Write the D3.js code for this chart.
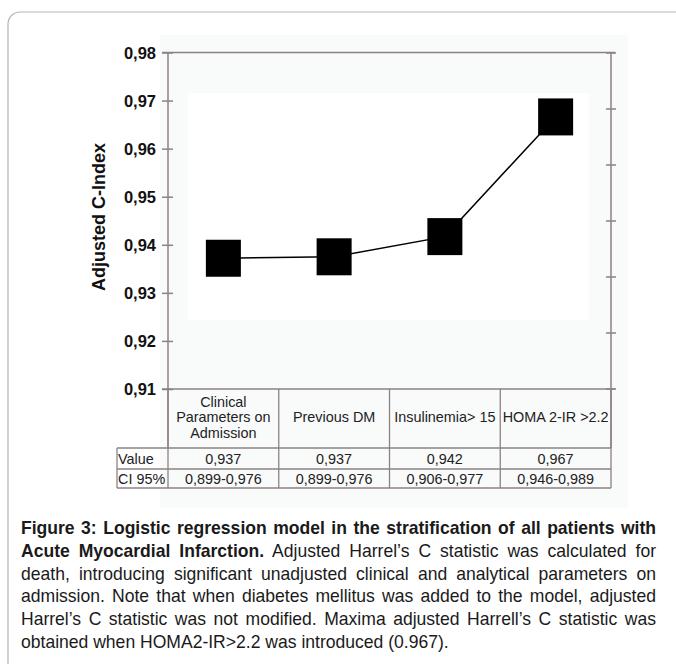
<!DOCTYPE html>
<html>
<head>
<meta charset="utf-8">
<script src="https://cdn.jsdelivr.net/npm/d3@7"></script>
<style>
  html, body { margin: 0; padding: 0; background: #ffffff; }
  svg { display: block; font-family: "Liberation Sans", Arial, sans-serif; }
</style>
</head>
<body>
<svg id="chart" width="676" height="664"></svg>
<script>
// ---- data ----
const categories = ["Clinical Parameters on Admission", "Previous DM", "Insulinemia> 15", "HOMA 2-IR >2.2"];
const headerLines = [["Clinical", "Parameters on", "Admission"], ["Previous DM"], ["Insulinemia> 15"], ["HOMA 2-IR >2.2"]];
const cIndex = [0.9372, 0.9375, 0.9417, 0.9666];
const valueLabels = ["0,937", "0,937", "0,942", "0,967"];
const ciLabels = ["0,899-0,976", "0,899-0,976", "0,906-0,977", "0,946-0,989"];
const rowLabels = ["Value", "CI 95%"];
const yTicks = [0.91, 0.92, 0.93, 0.94, 0.95, 0.96, 0.97, 0.98];
const yTitle = "Adjusted C-Index";
const captionBold = ["Figure 3: Logistic regression model in the stratification of all patients with", "Acute Myocardial Infarction."];
const captionLines = [
  "",
  " Adjusted Harrel\u2019s C statistic was calculated for",
  "death, introducing significant unadjusted clinical and analytical parameters on",
  "admission. Note that when diabetes mellitus was added to the model, adjusted",
  "Harrel\u2019s C statistic was not modified. Maxima adjusted Harrell\u2019s C statistic was",
  "obtained when HOMA2-IR>2.2 was introduced (0.967)."
];

// ---- layout ----
const svg = d3.select("#chart");
const L = 168, R = 611, T = 52.5, B = 389;
const axisColor = "#8d8282";

// outer rounded frame
svg.append("rect").attr("x", 8).attr("y", 12).attr("width", 700).attr("height", 700)
  .attr("rx", 12).attr("fill", "none").attr("stroke", "#b4b4b4").attr("stroke-width", 1.2);

// faint figure background
svg.append("rect").attr("x", 160).attr("y", 35).attr("width", 468).attr("height", 473).attr("fill", "#f9fafa");
svg.append("rect").attr("x", 188).attr("y", 93).attr("width", 401).attr("height", 227).attr("fill", "#ffffff");

const x = d3.scaleBand().domain(categories).range([L, R]).padding(0);
const y = d3.scaleLinear().domain([0.91, 0.98]).range([B, T]);
const yRight = d3.scaleLinear().domain([0, 6]).range([B, T + 0.5]);

// left axis
const yAxis = d3.axisLeft(y).tickValues(yTicks).tickSize(0)
  .tickFormat(d => d3.format(".2f")(d).replace(".", ","));
const gy = svg.append("g").attr("transform", `translate(${L},0)`).call(yAxis);
gy.select(".domain").remove();
gy.selectAll("text").attr("x", -12).attr("dy", "0.36em")
  .attr("font-size", 16.5).attr("font-weight", "bold").attr("fill", "#111")
  .attr("font-family", "'Liberation Sans', Arial, sans-serif");
gy.selectAll(".tick").append("line").attr("x1", -6).attr("x2", 5)
  .attr("stroke", axisColor).attr("stroke-width", 1.5);

// right axis ticks
const gr = svg.append("g");
gr.selectAll("line").data(d3.range(0, 7)).join("line")
  .attr("x1", R - 5).attr("x2", R + 5)
  .attr("y1", d => yRight(d)).attr("y2", d => yRight(d))
  .attr("stroke", axisColor).attr("stroke-width", 1.5);

// box
svg.append("line").attr("x1", L).attr("x2", L).attr("y1", T).attr("y2", 448).attr("stroke", axisColor).attr("stroke-width", 1.5);
svg.append("line").attr("x1", R).attr("x2", R).attr("y1", T).attr("y2", 448).attr("stroke", axisColor).attr("stroke-width", 1.5);
svg.append("line").attr("x1", L - 6).attr("x2", R + 4).attr("y1", T).attr("y2", T).attr("stroke", axisColor).attr("stroke-width", 1.5);
svg.append("line").attr("x1", L - 6).attr("x2", R + 4).attr("y1", B).attr("y2", B).attr("stroke", axisColor).attr("stroke-width", 1.5);

// y title
svg.append("text").attr("transform", `translate(105,217) rotate(-90)`)
  .attr("text-anchor", "middle").attr("font-size", 18).attr("font-weight", "bold").attr("fill", "#111")
  .text(yTitle);

// line + markers
const cx = d => x(d) + x.bandwidth() / 2;
const line = d3.line().x((d, i) => cx(categories[i])).y(d => y(d));
svg.append("path").datum(cIndex).attr("d", line).attr("fill", "none").attr("stroke", "#000").attr("stroke-width", 1.5);
svg.selectAll("rect.mk").data(cIndex).join("rect").attr("class", "mk")
  .attr("x", (d, i) => cx(categories[i]) - 17.5).attr("y", d => y(d) - 18.5)
  .attr("width", 35).attr("height", 37).attr("fill", "#000");

// table
const tLeft = 117, hTop = B, hBot = 448, r1Bot = 469, r2Bot = 488;
const tg = svg.append("g");
const tl = (x1, y1, x2, y2) => tg.append("line").attr("x1", x1).attr("y1", y1).attr("x2", x2).attr("y2", y2)
  .attr("stroke", axisColor).attr("stroke-width", 1.3);
categories.forEach(c => tl(x(c), hTop, x(c), r2Bot));
tl(R, hTop, R, r2Bot);
tl(tLeft, hBot, tLeft, r2Bot);
tl(tLeft, hBot, R, hBot);
tl(tLeft, r1Bot, R, r1Bot);
tl(tLeft, r2Bot, R, r2Bot);

headerLines.forEach((lines, i) => {
  const n = lines.length;
  lines.forEach((s, j) => {
    tg.append("text").attr("x", cx(categories[i])).attr("y", 422 + (j - (n - 1) / 2) * 15.5)
      .attr("text-anchor", "middle").attr("font-size", 14.4).attr("fill", "#222").text(s);
  });
});
valueLabels.forEach((s, i) => tg.append("text").attr("x", cx(categories[i])).attr("y", 464)
  .attr("text-anchor", "middle").attr("font-size", 14.4).attr("fill", "#222").text(s));
ciLabels.forEach((s, i) => tg.append("text").attr("x", cx(categories[i])).attr("y", 484)
  .attr("text-anchor", "middle").attr("font-size", 14.4).attr("fill", "#222").text(s));
tg.append("text").attr("x", 118).attr("y", 464).attr("font-size", 14.4).attr("fill", "#222").text(rowLabels[0]);
tg.append("text").attr("x", 118).attr("y", 484).attr("font-size", 14.4).attr("fill", "#222").text(rowLabels[1]);

// caption: narrow-looking text (horizontally scaled), justified via word-spacing
const capX = 21, capW = 635, base0 = 534, lh = 22.8, lastW = 428;
const capOuter = svg.append("g").attr("font-size", 17.5).attr("fill", "#1a1a1a");
const capG = capOuter.append("g");
const texts = [];
const t1 = capG.append("text").attr("x", 0).attr("y", base0).attr("font-weight", "bold").text(captionBold[0]);
texts.push({ t: t1, s: captionBold[0] });
const t2 = capG.append("text").attr("x", 0).attr("y", base0 + lh);
t2.append("tspan").attr("font-weight", "bold").text(captionBold[1]);
t2.append("tspan").text(captionLines[1]);
texts.push({ t: t2, s: captionBold[1] + captionLines[1] });
for (let k = 2; k < captionLines.length; k++) {
  const t = capG.append("text").attr("x", 0).attr("y", base0 + lh * k).text(captionLines[k]);
  texts.push({ t, s: captionLines[k] });
}
const last = texts[texts.length - 1];
const r = lastW / last.t.node().getComputedTextLength();
capG.attr("transform", `translate(${capX},0) scale(${r},1)`);
texts.slice(0, -1).forEach(({ t, s }) => {
  const w = t.node().getComputedTextLength();
  const spaces = (s.trim().match(/ /g) || []).length;
  const extra = (capW / r - w) / spaces;
  if (extra >= 0) t.attr("word-spacing", extra);
  else t.attr("textLength", capW / r).attr("lengthAdjust", "spacingAndGlyphs");
});
</script>
</body>
</html>
